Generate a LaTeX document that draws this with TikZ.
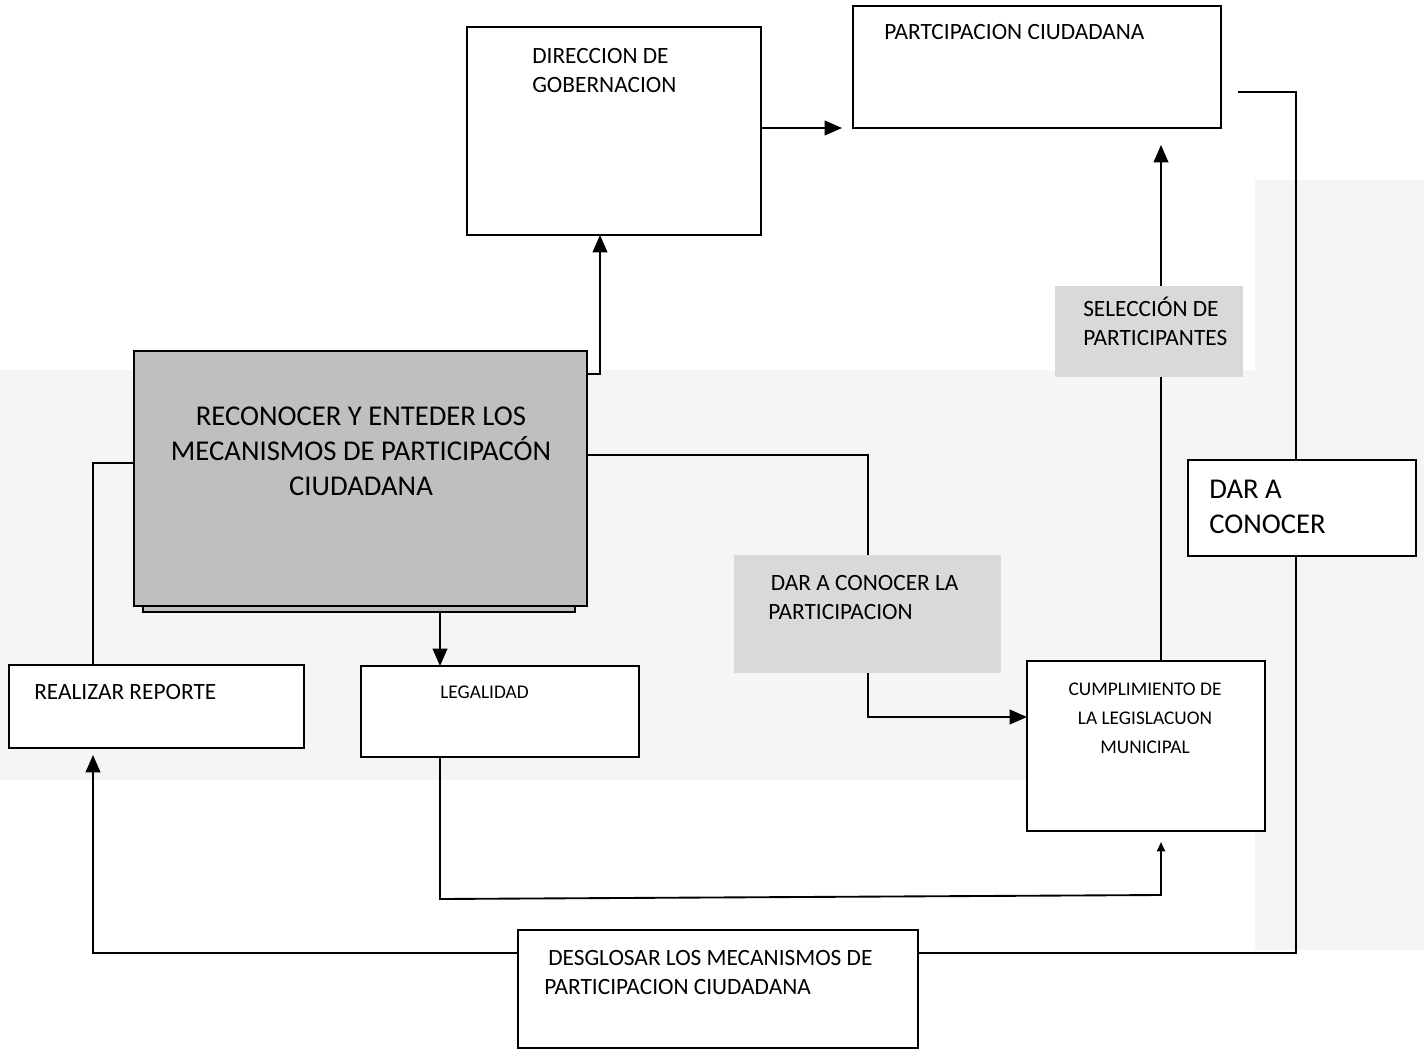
\documentclass[tikz,border=0pt]{standalone}
\usepackage{fontspec}
\setmainfont{Carlito}
\usetikzlibrary{arrows.meta,calc,fit}
\pgfdeclarelayer{bglayer}
\pgfdeclarelayer{linelayer}
\pgfsetlayers{bglayer,linelayer,main}
\newcommand\fsSmall{\fontsize{17.5}{21.75}\selectfont}
\newcommand\fsBig{\fontsize{21.5}{26.25}\selectfont}
\newcommand\fsMid{\fontsize{14.5}{21.75}\selectfont}
\definecolor{maingray}{HTML}{BFBFBF}
\definecolor{lightbox}{HTML}{D9D9D9}
\definecolor{texture}{HTML}{F5F5F5}
\tikzset{
  box/.style={draw=black, line width=1.1pt, fill=white, inner sep=0pt, outer sep=0pt},
  graybox/.style={draw=none, fill=lightbox, inner sep=0pt, outer sep=0pt},
  txt/.style={inner sep=0pt, anchor=north west, align=left, text=black},
  conn/.style={draw=black, line width=1.4pt},
  arr/.style={conn, -{Triangle[length=13pt,width=11pt]}},
  arrsmall/.style={conn, -{Triangle[length=7pt,width=6pt]}},
}
\begin{document}
\begin{tikzpicture}[x=0.75pt, y=-0.75pt]
\useasboundingbox (0,0) rectangle (1424,1049);
\begin{pgfonlayer}{bglayer}
  \fill[white] (0,0) rectangle (1424,1049);
  \fill[texture] (0,370) rectangle (1424,780);
  \fill[texture] (1255,180) rectangle (1424,950);
\end{pgfonlayer}

% boxes
\node[box, fit={(467,27) (761,235)}] (dir) {};
\node[box, fit={(853,6) (1221,128)}] (part) {};
\node[graybox, fit={(1055,286) (1243,377)}] (sel) {};
\node[box, fill=maingray, fit={(143,360) (575,612)}] (shadow) {};
\node[box, fill=maingray, fit={(134,351) (587,606)}] (main) {};
\node[box, fit={(1188,460) (1416,556)}] (dac) {};
\node[graybox, fit={(734,555) (1001,673)}] (dacl) {};
\node[box, fit={(1027,661) (1265,831)}] (cump) {};
\node[box, fit={(9,665) (304,748)}] (real) {};
\node[box, fit={(361,666) (639,757)}] (legal) {};
\node[box, fit={(518,930) (918,1048)}] (desg) {};

% texts
\node[txt, font=\fsSmall] (tdir) at (532,48) {DIRECCION DE\\GOBERNACION};
\node[txt, font=\fsSmall] (tpart) at (884,24) {PARTCIPACION CIUDADANA};
\node[txt, font=\fsBig, anchor=north, align=center] (tmain) at (361,407) {RECONOCER Y ENTEDER LOS\\MECANISMOS DE PARTICIPACÓN\\CIUDADANA};
\node[txt, font=\fsSmall] (tsel) at (1083,297) {SELECCIÓN DE\\PARTICIPANTES};
\node[txt, font=\fsBig] (tdac) at (1209,480) {DAR A\\CONOCER};
\node[txt, font=\fsSmall] (tdacl) at (768,575) {\hspace{2pt}DAR A CONOCER LA\\PARTICIPACION};
\node[txt, font=\fsMid, anchor=north, align=center] (tcump) at (1145,683) {CUMPLIMIENTO DE\\LA LEGISLACUON\\MUNICIPAL};
\node[txt, font=\fsSmall] (treal) at (34,684) {REALIZAR REPORTE};
\node[txt, font=\fsMid] (tlegal) at (440,686) {LEGALIDAD};
\node[txt, font=\fsSmall] (tdesg) at (544,950) {\hspace{3pt}DESGLOSAR LOS MECANISMOS DE\\PARTICIPACION CIUDADANA};

% connectors
\begin{pgfonlayer}{linelayer}
  \draw[arr] ($(main.north east)+(0,23)$) -- ++(13,0) -- ($(dir.south west)+(133,0)$);
  \draw[arr] ($(dir.north east)+(0,101)$) -- ($(part.south west)+(-11,0)$);
  \draw[conn] ($(desg.north east)+(0,23)$) -- ++(378,0) -- ++(0,-861) -- ($(part.east)+(17,25)$);
  \draw[arr] ($(main.south west)+(306,0)$) -- ($(legal.north west)+(79,0)$);
  \draw[arr] ($(main.north east)+(0,104)$) -- ++(281,0) -- ++(0,262) -- ($(cump.north west)+(0,56)$);
  \draw[conn] ($(main.north west)+(0,112)$) -- ++(-41,0) -- ($(real.north west)+(84,0)$);
  \draw[arrsmall] ($(legal.south west)+(79,0)$) -- ++(0,142) -- ++(721,-4) -- ($(cump.south west)+(134,11)$);
  \draw[arr] ($(cump.north west)+(134,0)$) -- ($(part.south west)+(308,17)$);
  \draw[arr] ($(desg.north west)+(0,23)$) -- ++(-425,0) -- ($(real.south west)+(84,7)$);
\end{pgfonlayer}
\end{tikzpicture}
\end{document}
